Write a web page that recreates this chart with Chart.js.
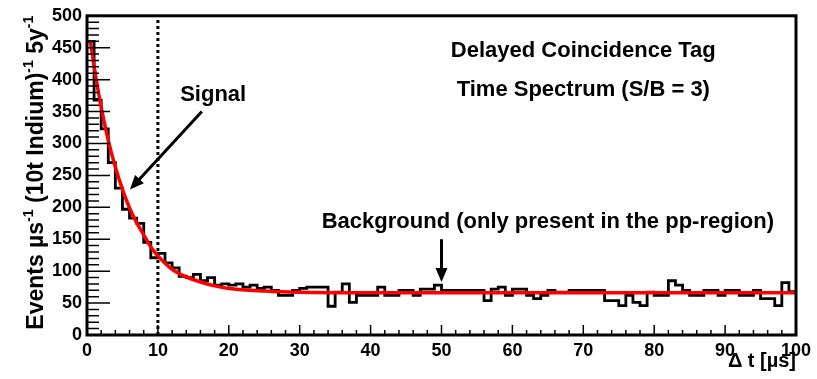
<!DOCTYPE html>
<html>
<head>
<meta charset="utf-8">
<title>Delayed Coincidence Tag - Time Spectrum</title>
<script src="https://cdn.jsdelivr.net/npm/chart.js@4.4.1/dist/chart.umd.min.js"></script>
<style>
    html, body { margin: 0; padding: 0; background: #fff; }
    #wrap { width: 817px; height: 379px; }
</style>
</head>
<body>
<div id="wrap"><canvas id="spectrum" width="817" height="379"></canvas></div>
<script>
// ========================================
// DATA
// ========================================

// events per 1 µs bin, bin k covers [k, k+1)
const histCounts = [
    460, 368, 323, 270, 230, 197, 183, 175, 145, 121,
    128, 113, 105, 92, 90, 95, 85, 90, 78, 80,
    78, 80, 75, 78, 73, 75, 70, 62, 62, 70,
    73, 75, 75, 75, 45, 67, 80, 51, 62, 62,
    62, 75, 62, 62, 70, 70, 62, 72, 72, 78,
    70, 70, 70, 70, 70, 70, 54, 72, 75, 62,
    72, 72, 62, 57, 62, 70, 67, 67, 70, 70,
    70, 70, 70, 54, 54, 46, 62, 51, 46, 67,
    62, 62, 85, 78, 70, 62, 62, 70, 70, 62,
    70, 70, 62, 62, 70, 57, 57, 46, 82, 68
];

// fitted curve (signal + flat background)
const fitTimes  = [0.5, 1, 2, 3, 4, 5, 6, 7, 8, 9, 10, 12, 14, 16, 18, 20, 25, 30, 40, 100];
const fitValues = [458, 421, 357, 305, 263, 228, 199, 176, 157, 138, 124, 103, 91, 83, 77, 73, 69, 67, 66, 66];

// dotted cut line
const cutTime = 10;

// axis ticks
const xTickValues = [0, 10, 20, 30, 40, 50, 60, 70, 80, 90, 100];
const yTickValues = [0, 50, 100, 150, 200, 250, 300, 350, 400, 450, 500];

// ========================================
// ANNOTATIONS (data coordinates)
// ========================================
const notes = [
    { text: 'Delayed Coincidence Tag', x: 70, y: 436 },
    { text: 'Time Spectrum (S/B = 3)', x: 70, y: 375 },
    { text: 'Signal', x: 17.8, y: 367 },
    { text: 'Background (only present in the pp-region)', x: 65, y: 167 }
];
const arrows = [
    { from: [16.2, 350], to: [6.06, 228] },
    { from: [50, 150], to: [50, 83] }
];

const FONT = "'Liberation Sans', Arial, Helvetica, sans-serif";

// ========================================
// PLUGINS
// ========================================
const frameAndTicks = {
    id: 'frameAndTicks',
    afterDatasetsDraw(chart) {
        const { ctx, chartArea: a, scales: { x, y } } = chart;
        ctx.save();
        ctx.strokeStyle = '#000';
        ctx.lineWidth = 1.5;
        ctx.beginPath();
        for (let v = 0; v <= 500; v += 10) {
            const py = y.getPixelForValue(v);
            const len = v % 50 === 0 ? 23 : 12;
            ctx.moveTo(a.left, py);
            ctx.lineTo(a.left + len, py);
        }
        for (let v = 0; v <= 100; v += 2) {
            const px = x.getPixelForValue(v);
            const len = v % 10 === 0 ? 10 : 5;
            ctx.moveTo(px, a.bottom);
            ctx.lineTo(px, a.bottom - len);
        }
        ctx.stroke();

        ctx.lineWidth = 3;
        ctx.strokeRect(a.left, a.top, a.right - a.left, a.bottom - a.top);
        ctx.restore();
    }
};

const labels = {
    id: 'labels',
    afterDraw(chart) {
        const { ctx, chartArea: a, scales: { x, y } } = chart;
        ctx.save();
        ctx.fillStyle = '#000';
        ctx.strokeStyle = '#000';

        // text notes
        ctx.font = 'bold 22px ' + FONT;
        ctx.textAlign = 'center';
        ctx.textBaseline = 'alphabetic';
        notes.forEach(n => {
            ctx.fillText(n.text, x.getPixelForValue(n.x), y.getPixelForValue(n.y));
        });

        // arrows
        arrows.forEach(ar => {
            const x0 = x.getPixelForValue(ar.from[0]), y0 = y.getPixelForValue(ar.from[1]);
            const x1 = x.getPixelForValue(ar.to[0]), y1 = y.getPixelForValue(ar.to[1]);
            const ang = Math.atan2(y1 - y0, x1 - x0);
            const head = 14, half = 6;
            ctx.lineWidth = 3;
            ctx.beginPath();
            ctx.moveTo(x0, y0);
            ctx.lineTo(x1 - Math.cos(ang) * head * 0.8, y1 - Math.sin(ang) * head * 0.8);
            ctx.stroke();
            ctx.beginPath();
            ctx.moveTo(x1, y1);
            ctx.lineTo(x1 - Math.cos(ang) * head - Math.sin(ang) * half, y1 - Math.sin(ang) * head + Math.cos(ang) * half);
            ctx.lineTo(x1 - Math.cos(ang) * head + Math.sin(ang) * half, y1 - Math.sin(ang) * head - Math.cos(ang) * half);
            ctx.closePath();
            ctx.fill();
        });

        // x axis title
        ctx.font = 'bold 20px ' + FONT;
        ctx.textAlign = 'right';
        ctx.fillText('\u0394 t [\u00b5s]', a.right, 367);

        // y axis title with superscripts
        const parts = [
            ['Events \u00b5s', 0], ['-1', 1], [' (10t Indium)', 0], ['-1', 1], [' 5y', 0], ['-1', 1]
        ];
        const bigFont = 'bold 23px ' + FONT, supFont = 'bold 14px ' + FONT;
        let total = 0;
        parts.forEach(p => { ctx.font = p[1] ? supFont : bigFont; total += ctx.measureText(p[0]).width; });
        ctx.translate(43, a.top + total);
        ctx.rotate(-Math.PI / 2);
        ctx.textAlign = 'left';
        let cx = 0;
        parts.forEach(p => {
            ctx.font = p[1] ? supFont : bigFont;
            ctx.fillText(p[0], cx, p[1] ? -10 : 0);
            cx += ctx.measureText(p[0]).width;
        });
        ctx.restore();
    }
};

// ========================================
// CHART
// ========================================
function initChart() {
    const histPoints = histCounts.map((v, k) => ({ x: k, y: v }));
    histPoints.push({ x: histCounts.length, y: histCounts[histCounts.length - 1] });
    const fitPoints = fitTimes.map((t, i) => ({ x: t, y: fitValues[i] }));

    const tickFont = { family: FONT, size: 18, weight: 'bold' };

    new Chart(document.getElementById('spectrum'), {
        type: 'line',
        data: {
            datasets: [
                {
                    label: 'cut',
                    data: [{ x: cutTime, y: 0 }, { x: cutTime, y: 500 }],
                    borderColor: '#000',
                    borderWidth: 3,
                    borderDash: [3, 3],
                    pointRadius: 0,
                    order: 3
                },
                {
                    label: 'data',
                    data: histPoints,
                    borderColor: '#000',
                    borderWidth: 2.8,
                    stepped: 'before',
                    pointRadius: 0,
                    order: 2
                },
                {
                    label: 'fit',
                    data: fitPoints,
                    borderColor: '#ff0000',
                    borderWidth: 3.5,
                    cubicInterpolationMode: 'monotone',
                    pointRadius: 0,
                    order: 1
                }
            ]
        },
        options: {
            responsive: false,
            devicePixelRatio: 1,
            animation: false,
            layout: { padding: { top: 11, right: 21, left: 0, bottom: 0 } },
            plugins: {
                legend: { display: false },
                tooltip: { enabled: false }
            },
            scales: {
                x: {
                    type: 'linear',
                    min: 0,
                    max: 100,
                    grid: { display: false, drawTicks: false },
                    border: { display: false },
                    afterBuildTicks: s => { s.ticks = xTickValues.map(v => ({ value: v })); },
                    afterFit: s => { s.height = 44; },
                    ticks: { color: '#000', font: tickFont, padding: 5, maxRotation: 0, autoSkip: false }
                },
                y: {
                    type: 'linear',
                    min: 0,
                    max: 500,
                    grid: { display: false, drawTicks: false },
                    border: { display: false },
                    afterBuildTicks: s => { s.ticks = yTickValues.map(v => ({ value: v })); },
                    afterFit: s => { s.width = 87; },
                    ticks: { color: '#000', font: tickFont, padding: 5, autoSkip: false }
                }
            }
        },
        plugins: [frameAndTicks, labels]
    });
}

document.addEventListener('DOMContentLoaded', initChart);
</script>
</body>
</html>
